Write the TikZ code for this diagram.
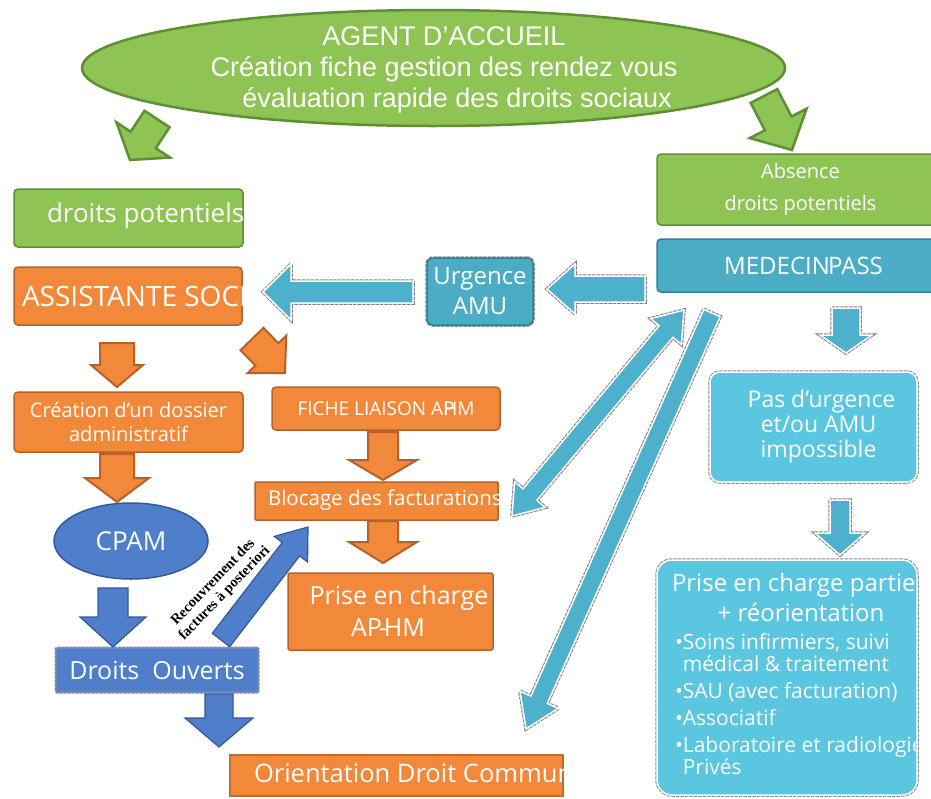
\documentclass[tikz,border=0pt]{standalone}
\usepackage{fontspec}
\setmainfont{Open Sans}
\newfontfamily\ellfont{Liberation Sans}
\newfontfamily\notefont{Liberation Serif}
\usetikzlibrary{calc,shapes.geometric}
\definecolor{grn}{HTML}{8DC453}
\definecolor{grnd}{HTML}{5E8F32}
\definecolor{org}{HTML}{F2883A}
\definecolor{orgd}{HTML}{B5622A}
\definecolor{blu}{HTML}{4F7ECB}
\definecolor{blud}{HTML}{34599B}
\definecolor{teal}{HTML}{4BACC6}
\definecolor{teald}{HTML}{357F94}
\definecolor{cyn}{HTML}{5BC6E0}
\definecolor{arrc}{HTML}{4DB0CC}
\newcommand\fsz[2]{\fontsize{#1pt}{#2pt}\selectfont}
% block arrow: style, tail, tip, shaft half width, head half width, head length
\newcommand\barrow[6]{%
  \path let \p1=($#3-#2$), \n1={atan2(\y1,\x1)}, \n2={veclen(\x1,\y1)} in \pgfextra{\xdef\bang{\n1}\xdef\blen{\n2}};%
  \begin{scope}[shift={#2}, rotate=\bang, x=1pt, y=1pt]
    \pgfmathsetmacro\bbase{\blen-#6}%
    \draw[#1] (0,-#4) -- (\bbase,-#4) -- (\bbase,-#5) -- (\blen,0) -- (\bbase,#5) -- (\bbase,#4) -- (0,#4) -- cycle;
  \end{scope}}
\newcommand\dbarrow[6]{%
  \path let \p1=($#3-#2$), \n1={atan2(\y1,\x1)}, \n2={veclen(\x1,\y1)} in \pgfextra{\xdef\bang{\n1}\xdef\blen{\n2}};%
  \begin{scope}[shift={#2}, rotate=\bang, x=1pt, y=1pt]
    \pgfmathsetmacro\bbase{\blen-#6}%
    \draw[#1] (0,0) -- (#6,-#5) -- (#6,-#4) -- (\bbase,-#4) -- (\bbase,-#5) -- (\blen,0) -- (\bbase,#5) -- (\bbase,#4) -- (#6,#4) -- (#6,#5) -- cycle;
  \end{scope}}
\begin{document}
\begin{tikzpicture}[x=1pt,y=-1pt,
  box/.style={rectangle, inner sep=0pt, outer sep=0pt, line width=1.5pt, rounded corners=4pt, text=white},
  gbox/.style={box, fill=grn, draw=grnd},
  obox/.style={box, fill=org, draw=orgd},
  bbox/.style={box, fill=blu, draw=blud!70, rounded corners=1pt, preaction={draw=black!45, line width=3pt, densely dotted}},
  tbox/.style={box, fill=teal, draw=teald},
  cbox/.style={box, fill=cyn, draw=white, line width=1.5pt, preaction={draw=black!45, line width=3.5pt, densely dotted}},
  txt/.style={inner sep=0pt, outer sep=0pt, text=white},
  garr/.style={fill=grn, draw=grnd, line width=2.5pt, line join=miter},
  oarr/.style={fill=org, draw=orgd, line width=2pt},
  barr/.style={fill=blu, draw=blud, line width=1.2pt},
  carr/.style={fill=arrc, draw=white, line width=1.5pt, preaction={draw=black!50, line width=3.5pt, densely dotted}},
]
\useasboundingbox (0,0) rectangle (931,798);
\fill[white] (0,0) rectangle (931,798);

% top ellipse
\node[ellipse, draw=grnd, fill=grn, line width=2.5pt, minimum width=703pt, minimum height=116pt, inner sep=0pt] (agent) at (433.5,68) {};
\node[txt, align=center, font=\ellfont\fsz{27}{31}] (agentt) at (444,70) {AGENT D’ACCUEIL\\Création fiche gestion des rendez vous\\\hspace*{26pt}évaluation rapide des droits sociaux};

% left column
\node[gbox, minimum width=229pt, minimum height=58pt] (dp) at (128.5,218) {};
\begin{scope}
  \clip (dp.south west) rectangle (dp.north east);
  \node[txt, anchor=west, font=\fsz{26}{30}] (dpt) at (47,216) {droits potentiels};
\end{scope}

\node[obox, minimum width=228pt, minimum height=58pt] (as) at (128,296) {};
\begin{scope}
  \clip (as.south west) rectangle (as.north east);
  \node[txt, anchor=west, font=\fsz{28}{30}] (ast) at (22,296) {ASSISTANTE SOCI};
\end{scope}

\node[obox, minimum width=229pt, minimum height=60pt, align=center, font=\fsz{20}{24}] (cr) at (128.5,422) {Création d'un dossier\\administratif};

\node[ellipse, fill=blu, draw=blud, line width=1.5pt, minimum width=154pt, minimum height=76pt, inner sep=0pt, text=white, font=\fsz{26}{30}] (cpam) at (131,541) {CPAM};

\node[bbox, minimum width=202pt, minimum height=44pt, font=\fsz{25}{30}] (do) at (157,670) {Droits\ \ Ouverts};

% middle
\node[tbox, minimum width=106pt, minimum height=67pt, rounded corners=6pt, align=center, font=\fsz{24}{30}, preaction={draw=black!45, line width=3.5pt, densely dotted}] (urg) at (480,291.5) {Urgence\\AMU};

\node[obox, minimum width=228pt, minimum height=43pt, font=\fsz{19}{24}] (fiche) at (386,408.5) {FICHE LIAISON A\rlap{P}HM};

\node[obox, minimum width=243pt, minimum height=38pt, rounded corners=1pt] (bloc) at (376.5,501) {};
\begin{scope}
  \clip (bloc.south west) rectangle (bloc.north east);
  \node[txt, anchor=west, font=\fsz{20.5}{24}] (bloct) at (268,500) {Blocage des facturations};
\end{scope}

\node[obox, minimum width=205pt, minimum height=77pt, rounded corners=2pt] (pec) at (390.5,611.5) {};
\begin{scope}
  \clip (pec.south west) rectangle (pec.north east);
  \node[txt, align=center, font=\fsz{25}{32}] (pect) at (399,611) {Prise en charge\\\hspace*{-22pt}AP\kern-0.12em-\kern-0.12em HM};
\end{scope}

\node[obox, minimum width=333pt, minimum height=41pt, rounded corners=0pt, draw=org!80!black] (ori) at (396.5,775.5) {};
\begin{scope}
  \clip (ori.south west) rectangle (ori.north east);
  \node[txt, anchor=west, font=\fsz{25.5}{30}] (orit) at (254,773) {Orientation Droit Commun};
\end{scope}

% right column
\node[gbox, minimum width=283pt, minimum height=71pt, align=center, font=\fsz{20}{32}] (abs) at (798.5,189.5) {\hspace*{4pt}Absence\\\hspace*{4pt}droits potentiels};

\node[tbox, minimum width=283pt, minimum height=53pt, font=\fsz{24}{30}] (med) at (798.5,265.5) {\hspace*{10pt}MEDECIN\kern-0.08em PASS};

\node[cbox, minimum width=207pt, minimum height=110pt, rounded corners=10pt, align=center, font=\fsz{23}{25}] (pas) at (813.5,427) {\hspace*{16pt}Pas d’urgence\\\hspace*{10pt}et/ou AMU\\\hspace*{10pt}impossible};

\node[cbox, minimum width=260pt, minimum height=235pt, rounded corners=15pt] (ppc) at (787,677.5) {};
\begin{scope}
  \clip (ppc.south west) rectangle ([xshift=-2pt]ppc.north east);
  \node[txt, anchor=west, font=\fsz{24}{28}] (ppc1) at (672,585) {Prise en charge partie};
  \node[txt, font=\fsz{24}{28}] (ppc2) at (801,612) {+ réorientation};
  \node[txt, anchor=north west, align=left, font=\fsz{21}{22}] (ppc3) at (675,633) {•Soins infirmiers, suivi\\\hphantom{•}médical \& traitement\\[5pt]•SAU (avec facturation)\\[5pt]•Associatif\\[5pt]•Laboratoire et radiologie\\\hphantom{•}Privés};
\end{scope}

% block arrows
\barrow{garr}{(157,119)}{(130,160)}{15}{32}{24}
\barrow{garr}{(764,96)}{(792,150)}{15}{32}{30}
\barrow{oarr}{(117,343)}{(117,387)}{17}{26}{22}
\barrow{oarr}{(252,339)}{(285,373)}{16}{27}{26}
\barrow{oarr}{(117,454)}{(117,502)}{17}{32}{24}
\barrow{oarr}{(383,432)}{(383,480)}{15}{34}{20}
\barrow{oarr}{(383,521)}{(383,563)}{15}{34}{21}
\barrow{barr}{(113,588)}{(113,647)}{15}{33}{30}
\barrow{barr}{(219,694)}{(219,747)}{14}{34}{29}
\barrow{barr}{(221,640)}{(308,527)}{11}{21}{28}
\barrow{carr}{(413,292)}{(263,292)}{11}{28}{28}
\barrow{carr}{(645,289)}{(547,289)}{13}{25}{28}
\barrow{carr}{(846,308)}{(846,353)}{14}{26}{18}
\barrow{carr}{(840,500)}{(840,555)}{10}{25}{22}
\dbarrow{carr}{(512,516)}{(684,310)}{9}{20}{28}
\barrow{carr}{(712,313)}{(526,729)}{9}{21}{32}

% rotated note
\node[rotate=46, align=center, inner sep=1pt, font=\notefont\bfseries\fsz{14.5}{16}] (note) at (219,588) {Recouvrement des\\factures à posteriori};
\end{tikzpicture}
\end{document}
